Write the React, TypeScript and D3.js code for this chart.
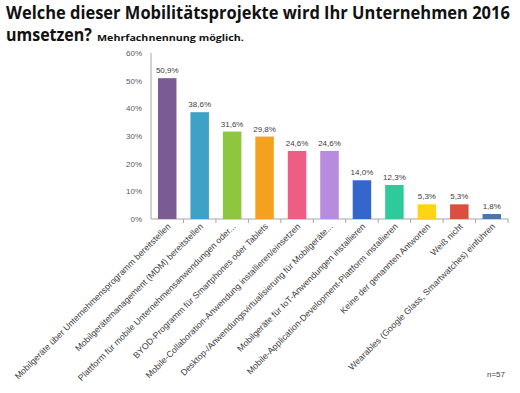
import { useLayoutEffect, useRef, useState } from "react"
import * as d3 from "d3"

const categories = [
  "Mobilgeräte über Unternehmensprogramm bereitstellen",
  "Mobilgerätemanagement (MDM) bereitstellen",
  "Plattform für mobile Unternehmensanwendungen oder...",
  "BYOD-Programm für Smartphones oder Tablets",
  "Mobile-Collaboration-Anwendung installieren/einsetzen",
  "Desktop-/Anwendungsvirtualisierung für Mobilgeräte...",
  "Mobilgeräte für IoT-Anwendungen installieren",
  "Mobile-Application-Development-Plattform installieren",
  "Keine der genannten Antworten",
  "Weiß nicht",
  "Wearables (Google Glass, Smartwatches) einführen",
]
const values = [50.9, 38.6, 31.6, 29.8, 24.6, 24.6, 14.0, 12.3, 5.3, 5.3, 1.8]
const colors = [
  "#7b5b93", "#3fa1c5", "#8ec63f", "#f4a11f", "#ee5d84", "#b78bdd",
  "#3467cc", "#2fca9b", "#ffd414", "#da4f3e", "#4a76b0",
]
const yTicks = [0, 10, 20, 30, 40, 50, 60]

const W = 520
const H = 393
const left = 151
const right = 508
const top = 53
const bottom = 219
const FONT = "'Liberation Sans', Arial, sans-serif"
const TITLE_FONT = "'Open Sans', 'Liberation Sans', sans-serif"

// text squeezed horizontally to a target width (the original uses a narrow Calibri)
function FitText({ x, y, width, size, children }: { x: number; y: number; width: number; size: number; children: string }) {
  const ref = useRef<SVGTextElement>(null)
  const [sx, setSx] = useState(1)
  useLayoutEffect(() => {
    const w = ref.current?.getComputedTextLength() ?? width
    if (w > 0) setSx(width / w)
  }, [width, children])
  return (
    <text
      ref={ref}
      transform={`translate(${x},${y}) scale(${sx},1)`}
      fontFamily={TITLE_FONT}
      fontSize={size}
      fontWeight={700}
      fill="#111"
    >
      {children}
    </text>
  )
}

export default function App() {
  const x = d3.scaleBand<string>().domain(categories).range([left, right]).paddingInner(0.43).paddingOuter(0.215)
  const y = d3.scaleLinear().domain([0, 60]).range([bottom, top])
  const step = x.step()
  const fmt = (v: number) => v.toFixed(1).replace(".", ",") + "%"

  return (
    <svg width={W} height={H} style={{ position: "absolute", left: 0, top: 0, background: "#fff" }} fontFamily={FONT}>
      <FitText x={6} y={19} width={504} size={18}>Welche dieser Mobilitätsprojekte wird Ihr Unternehmen 2016</FitText>
      <FitText x={6} y={41} width={86} size={18}>umsetzen?</FitText>
      <FitText x={97} y={41} width={147} size={9.5}>Mehrfachnennung möglich.</FitText>

      {/* y axis */}
      <line x1={left} x2={left} y1={top} y2={bottom} stroke="#a6a6a6" strokeWidth={1} />
      {yTicks.map((t) => (
        <text key={t} x={142} y={y(t) + 3} fontSize={8} fill="#595959" textAnchor="end">
          {t}%
        </text>
      ))}

      {/* x axis */}
      <line x1={left} x2={right} y1={bottom} y2={bottom} stroke="#a6a6a6" strokeWidth={1} />
      {categories.map((c, i) => {
        const bx = left + step * (i + 1)
        return <line key={i} x1={bx} x2={bx} y1={bottom} y2={bottom + 4} stroke="#a6a6a6" />
      })}

      {categories.map((c, i) => (
        <g key={c}>
          <rect x={x(c)} y={y(values[i])} width={x.bandwidth()} height={bottom - y(values[i])} fill={colors[i]} />
          <text x={x(c)! + x.bandwidth() / 2} y={y(values[i]) - 5} fontSize={8} fill="#404040" textAnchor="middle">
            {fmt(values[i])}
          </text>
          <text
            transform={`translate(${x(c)! + x.bandwidth() / 2 + 4},${bottom + 8}) rotate(-45)`}
            fontSize={8.8}
            fill="#404040"
            textAnchor="end"
          >
            {c}
          </text>
        </g>
      ))}

      <text x={505} y={377} fontSize={8} fill="#404040" textAnchor="end">
        n=57
      </text>
    </svg>
  )
}
